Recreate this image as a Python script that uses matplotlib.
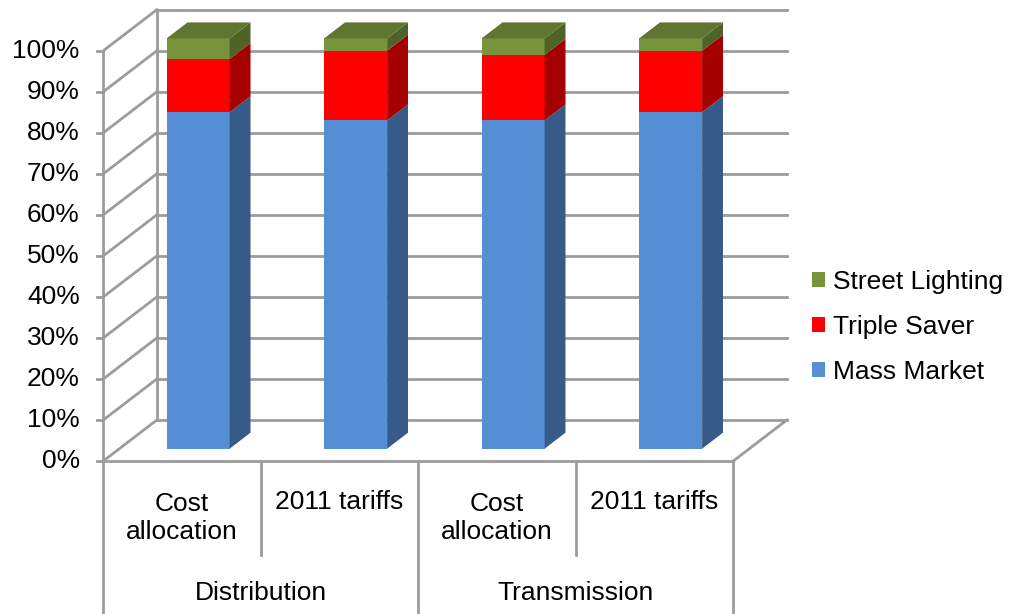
import matplotlib
matplotlib.use('Agg')
import matplotlib.pyplot as plt
from matplotlib.patches import Polygon, Patch

plt.rcParams['font.family'] = ['Liberation Sans', 'DejaVu Sans']

# data (percent of total)
categories = ['Cost\nallocation', '2011 tariffs', 'Cost\nallocation', '2011 tariffs']
groups = ['Distribution', 'Transmission']
mass_market = [82, 80, 80, 82]
triple_saver = [13, 17, 16, 15]
street_lighting = [5, 3, 4, 3]
series_names = ['Mass Market', 'Triple Saver', 'Street Lighting']
yticks = [0, 10, 20, 30, 40, 50, 60, 70, 80, 90, 100]

# colours: front, side, top
front_cols = ['#558ED5', '#FF0000', '#77933C']
side_cols = ['#375B89', '#A50000', '#4F6228']
top_cols = ['#3F6494', '#B00000', '#5F7631']
grid_col = '#9C9C9C'

# fake 3d depth (in data units)
DX = 0.34
DY = 10.0
f0, f1 = 0.30, 0.69
bar_w = 0.40
fs = 19

fig = plt.figure(figsize=(10.1, 6.14), dpi=100)
ax = fig.add_axes([0, 0, 1, 1])
ax.set_xlim(-1.156, 5.257)
ax.set_ylim(-37.29, 112.36)
ax.axis('off')

n = len(categories)
left = -0.5
right = n - 0.5

# walls and floor
for v in yticks:
    ax.plot([left + DX, right + DX], [v + DY, v + DY], color=grid_col, lw=2, zorder=1)
    ax.plot([left, left + DX], [v, v], color='none')
    ax.plot([left, left + DX], [v, v + DY], color=grid_col, lw=2, zorder=1)
    ax.plot([left - 0.04, left], [v, v], color=grid_col, lw=2, zorder=1)
    ax.text(left - 0.15, v, '%d%%' % v, ha='right', va='center', fontsize=fs)
ax.plot([left + DX, left + DX], [DY, 100 + DY], color=grid_col, lw=2, zorder=1)
ax.plot([left, left], [0, 100], color=grid_col, lw=2, zorder=1)
ax.plot([left, right], [0, 0], color=grid_col, lw=2, zorder=1)
ax.plot([right, right + DX], [0, DY], color=grid_col, lw=2, zorder=1)

# bars
series = [mass_market, triple_saver, street_lighting]
bottoms = [0] * n
for k, vals in enumerate(series):
    xs = [i + f0 * DX for i in range(n)]
    ax.bar(xs, vals, width=bar_w, bottom=[b + f0 * DY for b in bottoms],
           color=front_cols[k], linewidth=0, zorder=3)
    for i in range(n):
        b = bottoms[i]
        t = b + vals[i]
        xr = i + f0 * DX + bar_w / 2
        xl = i + f0 * DX - bar_w / 2
        ddx = (f1 - f0) * DX
        side = [(xr, b + f0 * DY), (xr + ddx, b + f1 * DY),
                (xr + ddx, t + f1 * DY), (xr, t + f0 * DY)]
        ax.add_patch(Polygon(side, closed=True, facecolor=side_cols[k],
                             edgecolor='none', zorder=3))
        if k == len(series) - 1:
            top = [(xl, t + f0 * DY), (xr, t + f0 * DY),
                   (xr + ddx, t + f1 * DY), (xl + ddx, t + f1 * DY)]
            ax.add_patch(Polygon(top, closed=True, facecolor=top_cols[k],
                                 edgecolor='none', zorder=3))
    bottoms = [bottoms[i] + vals[i] for i in range(n)]

# category table below the floor
ybot = -37.29
for i in range(n + 1):
    x = left + i
    if i % 2 == 0:
        ax.plot([x, x], [0, ybot], color=grid_col, lw=2, zorder=1)
    else:
        ax.plot([x, x], [0, -22.9], color=grid_col, lw=2, zorder=1)
for i, lab in enumerate(categories):
    if '\n' in lab:
        ax.text(i, -13.8, lab, ha='center', va='center', fontsize=fs, linespacing=1.2)
    else:
        ax.text(i, -9.9, lab, ha='center', va='center', fontsize=fs)
for j, g in enumerate(groups):
    ax.text(2 * j + 0.5, -32.2, g, ha='center', va='center', fontsize=fs)

# legend
handles = [Patch(facecolor=front_cols[k], edgecolor='none', label=series_names[k])
           for k in [2, 1, 0]]
ax.legend(handles=handles, loc='center left', bbox_to_anchor=(812 / 1010, 0.468),
          frameon=False, fontsize=fs, handlelength=0.5, handleheight=0.5,
          handletextpad=0.3, labelspacing=0.8, borderpad=0, borderaxespad=0)

plt.savefig('out.png', dpi=100)
